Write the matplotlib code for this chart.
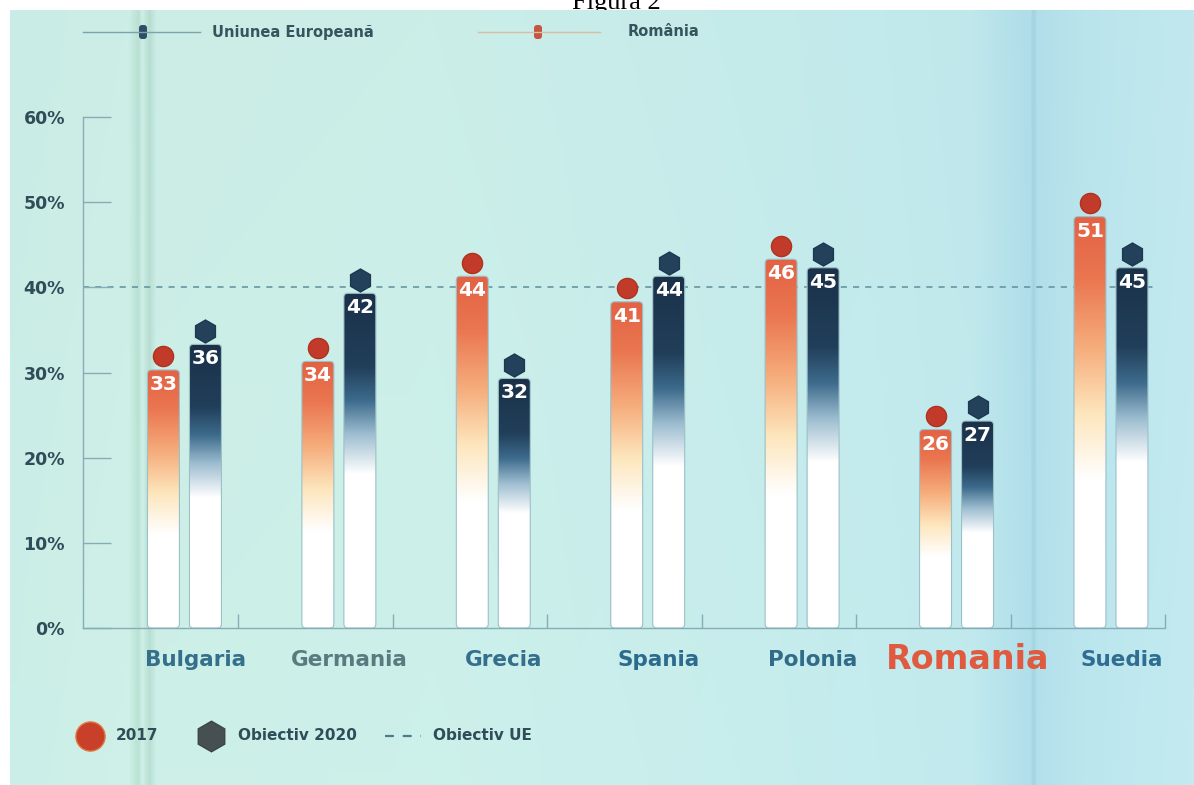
import numpy as np
import matplotlib
matplotlib.use("Agg")
import matplotlib.pyplot as plt
from matplotlib.colors import LinearSegmentedColormap, to_rgb
from matplotlib.patches import FancyBboxPatch

# data
COUNTRIES = ["Bulgaria", "Germania", "Grecia", "Spania", "Polonia", "Romania", "Suedia"]
VALUES_2017 = [33, 34, 44, 41, 46, 26, 51]
VALUES_2020 = [36, 42, 32, 44, 45, 27, 45]
EU_TARGET = 40
Y_TICKS = [0, 10, 20, 30, 40, 50, 60]
Y_TICK_LABELS = ["0%", "10%", "20%", "30%", "40%", "50%", "60%"]
TOP_LEGEND = ["Uniunea Europeană", "România"]
BOTTOM_LEGEND = ["2017", "Obiectiv 2020", "Obiectiv UE"]
TITLE = "Figura 2"

W, H = 1194, 785
LABEL_COLORS = ["#346f8c", "#587b7f", "#346f8c", "#2d6b8e", "#306b88", "#e05a40", "#2f6e92"]
TEXT_DARK = "#2f4d58"
AXIS_COLOR = "#86adb5"

# drawing constants of the infographic (bar top sits below its value, marker on top)
BAR_W = 0.207
BAR_OFF = 0.136
BAR_SHORT = 2.7
MARKER_DROP = 1.1
LABEL_DROP = 4.4

cmap_2017 = LinearSegmentedColormap.from_list(
    "c2017",
    [(0.0, "#ffffff"), (0.36, "#ffffff"), (0.52, "#fde6bd"), (0.68, "#f6ad7c"),
     (0.85, "#ea7650"), (1.0, "#e36244")],
)
cmap_2020 = LinearSegmentedColormap.from_list(
    "c2020",
    [(0.0, "#ffffff"), (0.46, "#ffffff"), (0.58, "#9dbdd0"), (0.68, "#3d6b8c"),
     (0.78, "#213f5a"), (1.0, "#1b3149")],
)


def background():
    stops = [
        (0, "#c9ece6"), (118, "#cdeee6"), (128, "#b9e0d3"), (132, "#cdeee6"),
        (139, "#b7ddd0"), (146, "#cbede6"), (420, "#cbeee8"), (700, "#c6ebea"),
        (960, "#c0e8ec"), (995, "#b5e1ea"), (1020, "#afdde8"), (1023, "#a2d3df"),
        (1027, "#b1dee9"), (1075, "#bae4ec"), (1184, "#c1e8ee"),
    ]
    xs = np.arange(1184)
    px = [s[0] for s in stops]
    cols = np.array([to_rgb(s[1]) for s in stops])
    row = np.stack([np.interp(xs, px, cols[:, k]) for k in range(3)], axis=-1)
    shade = np.linspace(1.0, 1.01, 200)[:, None, None]
    return np.clip(row[None, :, :] * shade, 0, 1)


fig = plt.figure(figsize=(W / 100, H / 100), dpi=100, facecolor="white")

fig.text(616 / W, 1 - 9 / H, TITLE, ha="center", va="baseline", fontsize=19,
         family="Liberation Serif", color="black", zorder=-1)

bg = fig.add_axes([10 / W, 0, 1 - 10 / W, (H - 10) / H], zorder=0)
bg.imshow(background(), aspect="auto", extent=(0, 1, 0, 1))
bg.set_axis_off()

ax = fig.add_axes([83 / W, 1 - 628 / H, (1165 - 83) / W, (628 - 117) / H], zorder=1)
ax.set_facecolor("none")

aspect = (154.5 / 8.52)
grad = np.linspace(0, 1, 256)[:, None]
for i, (v17, v20) in enumerate(zip(VALUES_2017, VALUES_2020)):
    for v, off, cmap in [(v17, -BAR_OFF, cmap_2017), (v20, BAR_OFF, cmap_2020)]:
        x0 = i + off - BAR_W / 2
        h = v - BAR_SHORT
        patch = FancyBboxPatch((x0, 0), BAR_W, h, boxstyle="round,pad=0,rounding_size=0.026",
                               mutation_aspect=aspect, fc="none", ec="#9cc0c8", lw=0.8, zorder=3)
        ax.add_patch(patch)
        im = ax.imshow(grad, extent=(x0, x0 + BAR_W, 0, h), origin="lower", cmap=cmap,
                       aspect="auto", zorder=2, interpolation="bilinear")
        im.set_clip_path(patch)
        ax.text(i + off, v - LABEL_DROP, str(v), ha="center", va="center", color="white",
                fontsize=14.5, fontweight="bold", zorder=6)
    ax.plot(i - BAR_OFF, v17 - MARKER_DROP, "o", ms=14.5, mfc="#c23b2a", mec="#b0321f",
            mew=1, zorder=5)
    ax.plot(i + BAR_OFF, v20 - MARKER_DROP, "h", ms=16.5, mfc="#23415b", mec="#1d3850",
            mew=1, zorder=5)
    big = COUNTRIES[i] == "Romania"
    ax.text(i + 0.07, -3.7 if big else -3.8, COUNTRIES[i], ha="center", va="center",
            fontsize=24 if big else 15.5, fontweight="bold", color=LABEL_COLORS[i],
            family="DejaVu Sans", clip_on=False)

ax.plot([-0.657, 6.27], [EU_TARGET, EU_TARGET], color="#5d8f9c", lw=1.1,
        dashes=(4, 4), zorder=1)

ax.set_xlim(-0.657, 6.346)
ax.set_ylim(0, 60)
ax.set_xticks([])
ax.set_xticks([i + 0.35 for i in range(len(COUNTRIES))], minor=True)
ax.set_yticks(Y_TICKS)
ax.set_yticklabels(Y_TICK_LABELS, fontsize=12.5, fontweight="bold", color=TEXT_DARK)
ax.tick_params(axis="y", direction="in", length=20, width=1, color=AXIS_COLOR, pad=13)
ax.tick_params(axis="x", which="minor", direction="in", length=10, width=1, color=AXIS_COLOR)
for side in ["top", "right"]:
    ax.spines[side].set_visible(False)
for side in ["left", "bottom"]:
    ax.spines[side].set_color(AXIS_COLOR)
    ax.spines[side].set_linewidth(1)

# legends in pixel coordinates
lg = fig.add_axes([0, 0, 1, 1], zorder=2)
lg.set_xlim(0, W)
lg.set_ylim(H, 0)
lg.set_axis_off()
lg.set_facecolor("none")

lg.plot([83, 200], [32, 32], color="#7aa3ad", lw=1)
lg.add_patch(FancyBboxPatch((139, 25), 8, 14, boxstyle="round,pad=0,rounding_size=3",
                            fc="#2e4d66", ec="none"))
lg.text(212, 32, TOP_LEGEND[0], ha="left", va="center", fontsize=10.5, fontweight="bold",
        color="#36545e")
lg.plot([478, 600], [32, 32], color="#d9bda5", lw=1)
lg.add_patch(FancyBboxPatch((534, 25), 8, 14, boxstyle="round,pad=0,rounding_size=3",
                            fc="#c4553e", ec="none"))
lg.text(628, 32, TOP_LEGEND[1], ha="left", va="center", fontsize=10.5, fontweight="bold",
        color="#36545e")

lg.plot(90, 736, "o", ms=21, mfc="#c8402a", mec="#e07a40", mew=1)
lg.text(116, 736, BOTTOM_LEGEND[0], ha="left", va="center", fontsize=11, fontweight="bold",
        color=TEXT_DARK)
lg.plot(211, 736, "h", ms=22, mfc="#465053", mec="#3c4548", mew=1)
lg.text(238, 736, BOTTOM_LEGEND[1], ha="left", va="center", fontsize=11, fontweight="bold",
        color=TEXT_DARK)
lg.plot([385, 421], [736, 736], color="#4a7d8c", lw=1.6, dashes=(4, 4))
lg.text(433, 736, BOTTOM_LEGEND[2], ha="left", va="center", fontsize=11, fontweight="bold",
        color=TEXT_DARK)

fig.savefig("out.png", dpi=100, facecolor="white")
